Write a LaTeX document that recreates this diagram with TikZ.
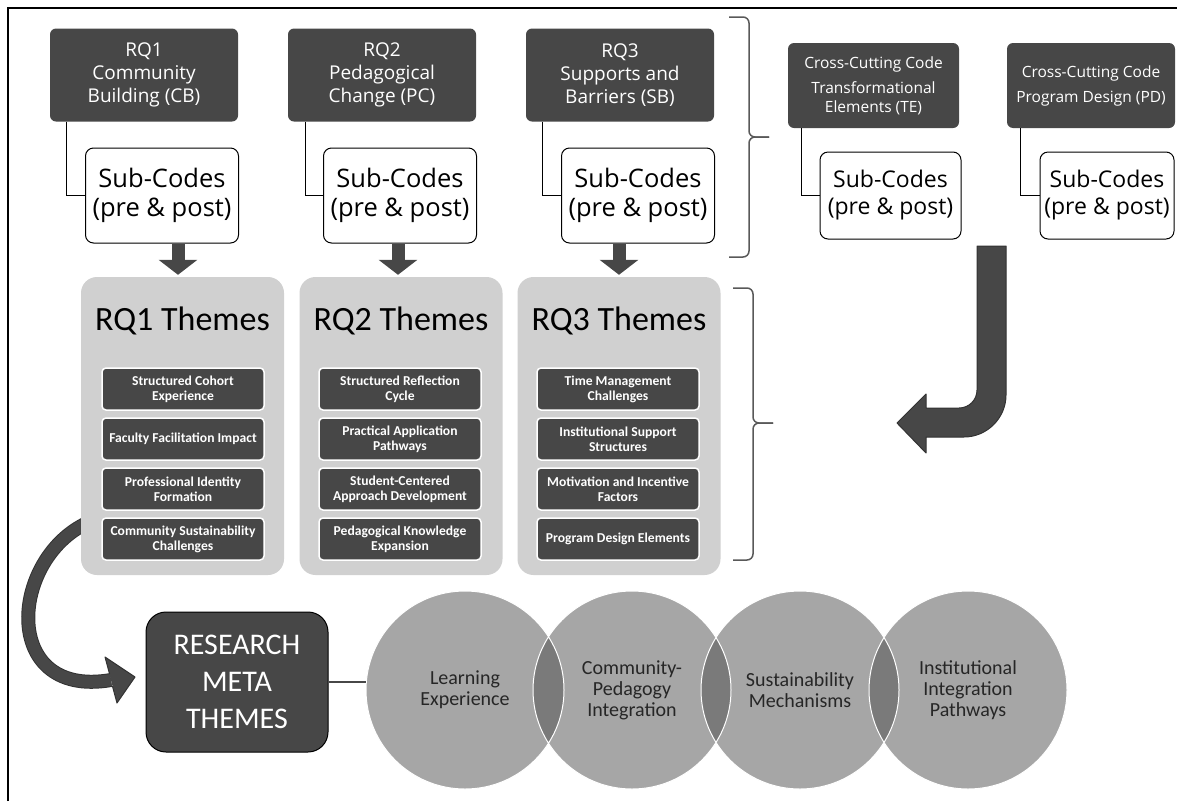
\documentclass[tikz,border=0pt]{standalone}
\usepackage{fontspec}
\setmainfont{Open Sans}
\newfontfamily\condfont{Carlito}
\usepackage{tikz}
\usetikzlibrary{arrows.meta}

\definecolor{boxdark}{HTML}{474747}
\definecolor{panelgray}{HTML}{D0D0D0}
\definecolor{circgray}{HTML}{A6A6A6}
\definecolor{lensgray}{HTML}{7A7A7A}
\definecolor{bracegray}{HTML}{595959}
\definecolor{circtext}{HTML}{262626}

\tikzset{
  rqbox/.style={fill=boxdark, rounded corners=6pt, text=white, align=center, inner sep=0pt, minimum width=188pt, minimum height=93pt, font=\fontsize{19}{23}\selectfont},
  crossbox/.style={rqbox, minimum width=171pt, minimum height=85pt, font=\fontsize{15.5}{19}\selectfont},
  subbox/.style={draw=black, line width=1pt, fill=white, rounded corners=8pt, align=center, inner sep=0pt, minimum width=153pt, minimum height=95pt, font=\fontsize{25.5}{29}\selectfont},
  crosssub/.style={subbox, minimum width=141pt, minimum height=87pt, font=\fontsize{23}{27}\selectfont},
  panel/.style={fill=panelgray, rounded corners=16pt, minimum width=203pt, minimum height=298pt, inner sep=0pt},
  paneltitle/.style={font=\condfont\fontsize{34}{40}\selectfont, inner sep=0pt},
  themeitem/.style={fill=boxdark, draw=white, line width=1.5pt, rounded corners=4pt, text=white, align=center, inner sep=0pt, minimum width=162pt, minimum height=42pt, font=\condfont\bfseries\fontsize{13.6}{15}\selectfont},
  link/.style={draw=black, line width=1pt},
  downarrow/.style={draw=boxdark, line width=13pt, shorten >=2pt, -{Triangle[length=15pt, width=38pt]}},
  bracepath/.style={draw=bracegray, line width=1.5pt, rounded corners=6pt},
  blockarrow/.style={fill=boxdark, draw=black!80, line width=1pt, line join=round},
  metabox/.style={fill=boxdark, draw=black, line width=1pt, rounded corners=20pt, text=white, align=center, inner sep=0pt, minimum width=182pt, minimum height=140pt, font=\condfont\fontsize{30}{37}\selectfont},
  themecirc/.style={circle, fill=circgray, minimum size=198pt, inner sep=0pt, align=center, text=circtext, font=\condfont\fontsize{20}{21}\selectfont},
}

\begin{document}
\begin{tikzpicture}[x=1pt, y=-1pt]
    \useasboundingbox (0,0) rectangle (1177,801);
    % Frame
    \draw[line width=1.5pt] (8,801) -- (8,8) -- (1177,8);

    % Research question codes
    \node[rqbox] (rq1) at (144,75) {RQ1\\Community\\Building (CB)};
    \node[rqbox] (rq2) at (382,75) {RQ2\\Pedagogical\\Change (PC)};
    \node[rqbox] (rq3) at (620,75) {RQ3\\Supports and\\Barriers (SB)};
    \node[subbox] (sub1) at (162,195.5) {Sub-Codes\\(pre \& post)};
    \node[subbox] (sub2) at (400,195.5) {Sub-Codes\\(pre \& post)};
    \node[subbox] (sub3) at (638,195.5) {Sub-Codes\\(pre \& post)};
    \draw[link] ([xshift=17pt]rq1.south west) |- (sub1.west);
    \draw[link] ([xshift=18pt]rq2.south west) |- (sub2.west);
    \draw[link] ([xshift=17pt]rq3.south west) |- (sub3.west);

    % Cross-cutting codes
    \node[crossbox] (te) at (873.5,85.5) {Cross-Cutting Code\\[6pt]Transformational\\Elements (TE)};
    \node[crossbox, minimum width=168pt] (pd) at (1091,85.5) {Cross-Cutting Code\\[6pt]Program Design (PD)};
    \node[crosssub] (subte) at (890.5,195.5) {Sub-Codes\\(pre \& post)};
    \node[crosssub, minimum width=134pt] (subpd) at (1107,195.5) {Sub-Codes\\(pre \& post)};
    \draw[link] ([xshift=14pt]te.south west) |- (subte.west);
    \draw[link] ([xshift=14pt]pd.south west) |- (subpd.west);

    % Braces
    \draw[bracepath] (729,17) -- (749,17) -- (749,137) -- (769,137);
    \draw[bracepath] (769,137) -- (749,137) -- (749,257) -- (729,257);
    \draw[bracepath] (733,288) -- (753,288) -- (753,423) -- (773,423);
    \draw[bracepath] (773,423) -- (753,423) -- (753,560) -- (733,560);

    % Bent arrow from cross-cutting codes
    \filldraw[blockarrow] (977,246) -- (1006,246) -- (1006,395)
        .. controls (1006,418) and (987,437) .. (964,437)
        -- (926,437) -- (926,453) -- (897,423) -- (926,394) -- (926,408) -- (959,408)
        .. controls (969,408) and (977,400) .. (977,390) -- cycle;

    % Curved arrow to meta themes
    \draw[black!80, line width=14pt] (100,518) .. controls (10,545) and (-5,700) .. (111,680);
    \draw[boxdark, line width=12pt] (100,518) .. controls (10,545) and (-5,700) .. (111,680);
    \fill[boxdark] (105,657) -- (135,677) -- (117,703) -- cycle;
    \draw[black!80, line width=1pt, line join=round] (109.6,674) -- (105,657) -- (135,677) -- (117,703) -- (112.4,686);

    % Theme panels
    \node[panel] (p1) at (182.5,426) {};
    \node[panel] (p2) at (401,426) {};
    \node[panel] (p3) at (619,426) {};
    \node[paneltitle] (p1title) at (182.5,321) {RQ1 Themes};
    \node[paneltitle] (p2title) at (401,321) {RQ2 Themes};
    \node[paneltitle] (p3title) at (619,321) {RQ3 Themes};

    \node[themeitem] (t11) at (183,389) {Structured Cohort\\Experience};
    \node[themeitem] (t12) at (183,439) {Faculty Facilitation Impact};
    \node[themeitem] (t13) at (183,489) {Professional Identity\\Formation};
    \node[themeitem] (t14) at (183,539) {Community Sustainability\\Challenges};

    \node[themeitem] (t21) at (400,389) {Structured Reflection\\Cycle};
    \node[themeitem] (t22) at (400,439) {Practical Application\\Pathways};
    \node[themeitem] (t23) at (400,489) {Student-Centered\\Approach Development};
    \node[themeitem] (t24) at (400,539) {Pedagogical Knowledge\\Expansion};

    \node[themeitem] (t31) at (618,389) {Time Management\\Challenges};
    \node[themeitem] (t32) at (618,439) {Institutional Support\\Structures};
    \node[themeitem] (t33) at (618,489) {Motivation and Incentive\\Factors};
    \node[themeitem] (t34) at (618,539) {Program Design Elements};

    % Arrows from sub-codes to themes
    \draw[downarrow] ([xshift=16pt]sub1.south) -- ([xshift=16pt]sub1.south |- p1.north);
    \draw[downarrow] ([xshift=-2pt]sub2.south) -- ([xshift=-2pt]sub2.south |- p2.north);
    \draw[downarrow] ([xshift=-19pt]sub3.south) -- ([xshift=-19pt]sub3.south |- p3.north);

    % Meta themes
    \node[metabox] (meta) at (237,682) {RESEARCH\\META\\THEMES};
    \node[themecirc] (c1) at (465,690) {Learning\\Experience};
    \node[themecirc] (c2) at (632,690) {Community-\\Pedagogy\\Integration};
    \node[themecirc] (c3) at (800,690) {Sustainability\\Mechanisms};
    \node[themecirc] (c4) at (968,690) {Institutional\\Integration\\Pathways};
    \begin{scope}
        \clip (c1) circle (99pt);
        \fill[lensgray] (c2) circle (99pt);
    \end{scope}
    \begin{scope}
        \clip (c2) circle (99pt);
        \fill[lensgray] (c3) circle (99pt);
    \end{scope}
    \begin{scope}
        \clip (c3) circle (99pt);
        \fill[lensgray] (c4) circle (99pt);
    \end{scope}
    \draw[white, line width=1pt] (c1) circle (99pt) (c2) circle (99pt) (c3) circle (99pt) (c4) circle (99pt);
    \draw[link, draw=boxdark, line width=1.5pt] (meta.east) -- (meta.east -| c1.west);
\end{tikzpicture}
\end{document}
